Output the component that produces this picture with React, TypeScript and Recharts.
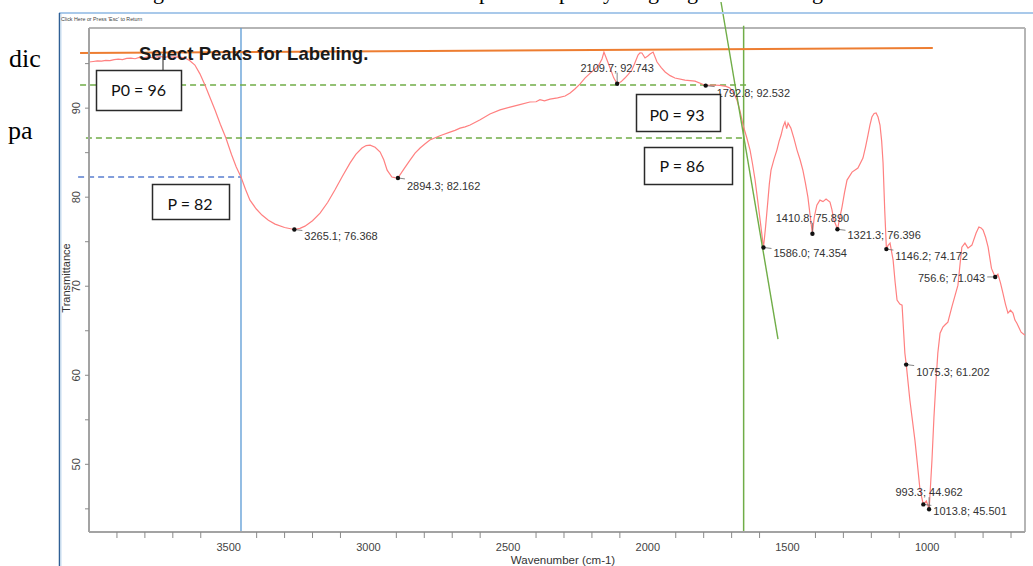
import React from "react";
import { ComposedChart, Line, Scatter, XAxis, YAxis, ReferenceLine, Label } from "recharts";

// spectrum (cm-1 / %T)
const wavenumber = [
  4000, 3985, 3970, 3955, 3940, 3925, 3910, 3895, 3880, 3865,
  3850, 3835, 3820, 3805, 3790, 3775, 3760, 3745, 3730, 3715,
  3700, 3685, 3670, 3656, 3640, 3621, 3603, 3585, 3567, 3549,
  3530, 3510, 3490, 3473, 3456, 3440, 3424, 3402, 3381, 3358,
  3334, 3300, 3266, 3245, 3227, 3200, 3173, 3146, 3120, 3093,
  3066, 3045, 3023, 3008, 2994, 2976, 2958, 2945, 2933, 2916,
  2905, 2894, 2872, 2851, 2833, 2815, 2797, 2780, 2744, 2708,
  2690, 2672, 2654, 2636, 2600, 2565, 2529, 2493, 2458, 2422,
  2400, 2386, 2370, 2350, 2323, 2296, 2278, 2261, 2243, 2225,
  2207, 2189, 2176, 2164, 2157, 2146, 2135, 2122, 2110, 2096,
  2082, 2070, 2057, 2046, 2035, 2028, 2021, 2010, 2000, 1992,
  1981, 1967, 1952, 1938, 1920, 1903, 1867, 1831, 1793, 1768,
  1742, 1720, 1706, 1694, 1681, 1670, 1659, 1646, 1634, 1625,
  1616, 1607, 1598, 1586, 1579, 1570, 1565, 1559, 1548, 1538,
  1530, 1523, 1516, 1509, 1503, 1498, 1488, 1477, 1466, 1455,
  1445, 1436, 1427, 1420, 1411, 1404, 1395, 1384, 1373, 1362,
  1348, 1341, 1334, 1321, 1314, 1305, 1296, 1287, 1269, 1248,
  1230, 1221, 1212, 1205, 1198, 1190, 1183, 1176, 1169, 1163,
  1158, 1152, 1146, 1140, 1133, 1122, 1115, 1108, 1098, 1090,
  1080, 1075, 1062, 1044, 1035, 1026, 1014, 1003, 993, 983,
  976, 969, 962, 954, 944, 935, 926, 911, 900, 890,
  883, 876, 865, 854, 840, 825, 815, 807, 800, 791,
  782, 770, 757, 747, 738, 729, 720, 711, 702, 693,
  686, 679, 671, 664, 650,
];
const transmittance = [
  95.18, 95.24, 95.3, 95.27, 95.36, 95.34, 95.45, 95.5, 95.46, 95.58,
  95.62, 95.55, 95.7, 95.64, 95.76, 95.68, 95.72, 95.8, 95.7, 95.78,
  95.74, 95.76, 95.7, 95.63, 95.35, 94.84, 93.85, 92.6, 91.2, 89.79,
  88.2, 86.64, 84.8, 83.4, 82.26, 80.9, 79.67, 78.7, 77.99, 77.4,
  76.98, 76.6, 76.37, 76.5, 76.75, 77.35, 78.21, 79.4, 80.8, 82.35,
  83.83, 84.8, 85.52, 85.8, 85.85, 85.6, 85.07, 84.2, 83.04, 82.26,
  82.2, 82.16, 83.2, 84.17, 84.95, 85.52, 86.0, 86.42, 86.9, 87.31,
  87.5, 87.75, 87.9, 88.1, 88.7, 89.34, 89.8, 90.12, 90.4, 90.69,
  90.72, 90.95, 90.82, 91.02, 91.15, 91.36, 91.7, 92.15, 92.7, 93.38,
  93.9, 94.39, 94.8, 95.52, 96.3, 95.4, 94.51, 93.4, 92.74, 92.95,
  93.38, 93.8, 94.28, 95.1, 95.97, 96.2, 96.19, 95.63, 95.85, 96.08,
  96.3, 95.18, 94.55, 94.06, 93.65, 93.38, 93.15, 93.04, 92.55, 92.6,
  92.55, 92.45, 92.26, 91.8, 90.91, 89.7, 88.1, 86.7, 85.29, 83.7,
  81.92, 79.7, 77.43, 74.35, 76.5, 79.67, 81.5, 83.04, 84.3, 85.29,
  86.3, 86.98, 87.9, 88.44, 87.7, 88.33, 87.76, 86.6, 85.29, 84.2,
  83.04, 81.6, 80.01, 78.2, 75.89, 77.8, 79.11, 79.67, 79.5, 79.79,
  79.45, 78.6, 77.43, 76.4, 77.5, 78.89, 80.5, 81.92, 82.82, 83.27,
  84.39, 85.6, 86.98, 88.1, 89.0, 89.4, 89.45, 89.0, 88.1, 86.3,
  83.83, 78.5, 74.17, 74.6, 74.84, 72.93, 70.5, 68.44, 68.0, 67.88,
  62.5, 61.2, 57.2, 52.71, 50.0, 47.2, 45.5, 45.9, 44.96, 50.46,
  55.2, 59.11, 62.5, 64.73, 65.4, 65.7, 65.97, 67.76, 69.0, 70.12,
  72.3, 74.39, 74.84, 74.28, 74.62, 75.97, 76.64, 76.55, 76.3, 75.5,
  74.39, 72.0, 71.04, 71.36, 70.4, 69.22, 68.0, 66.98, 67.3, 66.98,
  66.2, 65.85, 65.3, 64.84, 64.5,
];

// labelled peaks
const peakWavenumber = [3265.1, 2894.3, 2109.7, 1792.8, 1586.0, 1410.8, 1321.3, 1146.2, 1075.3, 1013.8, 993.3, 756.6];
const peakTransmittance = [76.368, 82.162, 92.743, 92.532, 74.354, 75.89, 76.396, 74.172, 61.202, 45.501, 44.962, 71.043];

const xMajorTicks = [3500, 3000, 2500, 2000, 1500, 1000];
const xMinorTicks = [
  3900, 3800, 3700, 3600, 3400, 3300, 3200, 3100, 2900, 2800, 2700, 2600, 2400, 2300,
  2200, 2100, 1900, 1800, 1700, 1600, 1400, 1300, 1200, 1100, 900, 800, 700,
];
const yTicks = [45, 50, 55, 60, 65, 70, 75, 80, 85, 90, 95];
const yLabelTicks = [50, 60, 70, 80, 90];

// hand-drawn construction lines (tangent method)
const baselineTop = [{ x: 4032, y: 96.19 }, { x: 980, y: 96.75 }];
const tangentLine = [{ x: 1738, y: 101.92 }, { x: 1534, y: 64.06 }];
const p0Line = [{ x: 4032, y: 92.6 }, { x: 1645, y: 92.6 }];
const pLine = [{ x: 4011, y: 86.64 }, { x: 1657, y: 86.64 }];
const p82Line = [{ x: 4039, y: 82.26 }, { x: 3456, y: 82.26 }];
const blueCursor = 3456;
const greenCursor = 1657;

const spectrum = wavenumber.map((w, i) => ({ w, t: transmittance[i] }));
const peaks = peakWavenumber.map((w, i) => ({
  w,
  t: peakTransmittance[i],
  label: `${w.toFixed(1)}; ${peakTransmittance[i].toFixed(3)}`,
}));

// where each peak label sits relative to its dot (px)
const labelPos: Record<string, { dx: number; dy: number; anchor: "start" | "middle" | "end" }> = {
  "3265.1": { dx: 10, dy: 6, anchor: "start" },
  "2894.3": { dx: 9, dy: 8, anchor: "start" },
  "2109.7": { dx: 0, dy: -16, anchor: "middle" },
  "1792.8": { dx: 11, dy: 7, anchor: "start" },
  "1586.0": { dx: 10, dy: 6, anchor: "start" },
  "1410.8": { dx: 0, dy: -16, anchor: "middle" },
  "1321.3": { dx: 10, dy: 6, anchor: "start" },
  "1146.2": { dx: 9, dy: 7, anchor: "start" },
  "1075.3": { dx: 10, dy: 7, anchor: "start" },
  "1013.8": { dx: 10, dy: 7, anchor: "start" },
  "993.3": { dx: 0, dy: -17, anchor: "middle" },
  "756.6": { dx: -10, dy: 1, anchor: "end" },
};

const FONT = "'Liberation Sans', Arial, sans-serif";

function PeakMarker(props: any) {
  const { cx, cy, payload } = props;
  const pos = labelPos[payload.w.toFixed(1)];
  let leader = null;
  if (pos.anchor === "start") {
    leader = <line x1={cx} y1={cy} x2={cx + pos.dx - 2} y2={cy + 1} stroke="#666" strokeWidth={0.8} />;
  } else if (pos.anchor === "end") {
    leader = <line x1={cx} y1={cy} x2={cx + pos.dx + 2} y2={cy} stroke="#666" strokeWidth={0.8} />;
  } else {
    leader = <line x1={cx} y1={cy} x2={cx} y2={cy + pos.dy + 5} stroke="#666" strokeWidth={0.8} />;
  }
  return (
    <g>
      {leader}
      <circle cx={cx} cy={cy} r={2.2} fill="#111" />
      <text
        x={cx + pos.dx}
        y={cy + pos.dy + 4}
        textAnchor={pos.anchor}
        fontSize={11}
        fontFamily={FONT}
        fill="#333"
      >
        {payload.label}
      </text>
    </g>
  );
}

function XTick(props: any) {
  const { x, y, payload } = props;
  if (xMajorTicks.includes(payload.value)) {
    return (
      <text x={x} y={y + 11} textAnchor="middle" fontSize={11} fontFamily={FONT} fill="#444">
        {payload.value}
      </text>
    );
  }
  return <line x1={x} x2={x} y1={y - 8} y2={y - 2} stroke="#8a8a8a" strokeWidth={1} />;
}

function YTick(props: any) {
  const { x, y, payload } = props;
  if (!yLabelTicks.includes(payload.value)) return <g />;
  return (
    <text
      x={x}
      y={y}
      transform={`rotate(-90 ${x} ${y})`}
      textAnchor="middle"
      fontSize={11}
      fontFamily={FONT}
      fill="#444"
    >
      {payload.value}
    </text>
  );
}

export default function App() {
  return (
    <div style={{ position: "absolute", left: 0, top: 0, width: 1033, height: 566, overflow: "hidden", background: "#fff" }}>
      <ComposedChart
        width={1033}
        height={566}
        data={spectrum}
        margin={{ top: 28, right: 8, bottom: 4, left: 59 }}
      >
        <XAxis
          dataKey="w"
          type="number"
          domain={[650, 4000]}
          reversed
          allowDataOverflow
          ticks={[...xMajorTicks, ...xMinorTicks]}
          interval={0}
          height={30}
          tickSize={6}
          tickMargin={2}
          tickLine={{ stroke: "transparent" }}
          axisLine={{ stroke: "#a3a3a3", strokeWidth: 2 }}
          tick={<XTick />}
        >
          <Label
            content={(p: any) => {
              const vb = p.viewBox || { x: 89, y: 532, width: 936 };
              return (
                <text x={vb.x + vb.width / 2 + 6} y={vb.y + 32} textAnchor="middle" fontSize={11.5} fontFamily={FONT} fill="#333">
                  Wavenumber (cm-1)
                </text>
              );
            }}
          />
        </XAxis>
        <YAxis
          type="number"
          domain={[42.4, 99]}
          allowDataOverflow
          ticks={yTicks}
          interval={0}
          width={30}
          tickSize={4}
          tickMargin={5}
          tickLine={{ stroke: "#8a8a8a" }}
          axisLine={{ stroke: "#a3a3a3", strokeWidth: 2 }}
          tick={<YTick />}
        >
          <Label
            content={(p: any) => {
              const vb = p.viewBox || { x: 59, y: 28, height: 504 };
              const cx = vb.x + 11;
              const cy = vb.y + vb.height / 2 - 2;
              return (
                <text x={cx} y={cy} transform={`rotate(-90 ${cx} ${cy})`} textAnchor="middle" fontSize={11} fontFamily={FONT} fill="#333">
                  Transmittance
                </text>
              );
            }}
          />
        </YAxis>

        {/* top and right frame of the plot */}
        <ReferenceLine y={99} stroke="#b5b5b5" strokeWidth={2} ifOverflow="visible" />
        <ReferenceLine x={650} stroke="#b5b5b5" strokeWidth={2} ifOverflow="visible" />

        <ReferenceLine x={blueCursor} stroke="#5b9bd5" strokeWidth={1.3} ifOverflow="visible" />
        <ReferenceLine
          segment={[{ x: greenCursor, y: 99.25 }, { x: greenCursor, y: 42.4 }]}
          stroke="#70ad47"
          strokeWidth={1.5}
          ifOverflow="visible"
        />
        <ReferenceLine segment={p0Line} stroke="#70ad47" strokeWidth={1.4} strokeDasharray="6 4" ifOverflow="visible" />
        <ReferenceLine segment={pLine} stroke="#70ad47" strokeWidth={1.4} strokeDasharray="6 4" ifOverflow="visible" />
        <ReferenceLine segment={p82Line} stroke="#5a7fd0" strokeWidth={1.5} strokeDasharray="6 4" ifOverflow="visible" />

        <Line
          dataKey="t"
          type="linear"
          stroke="#ff8080"
          strokeWidth={1.2}
          dot={false}
          activeDot={false}
          isAnimationActive={false}
        />
        <Scatter data={peaks} dataKey="t" shape={<PeakMarker />} isAnimationActive={false} />

        <ReferenceLine segment={baselineTop} stroke="#ed7d31" strokeWidth={2} ifOverflow="visible" />
        <ReferenceLine segment={tangentLine} stroke="#70ad47" strokeWidth={1.4} ifOverflow="visible" />
      </ComposedChart>

      <svg
        width={1033}
        height={566}
        style={{ position: "absolute", left: 0, top: 0, pointerEvents: "none" }}
      >
        <defs>
          <clipPath id="docclip">
            <rect x={0} y={0} width={41} height={566} />
          </clipPath>
        </defs>
        {/* surrounding document text, partly hidden by the screenshot */}
        <g fontFamily="'Liberation Serif', 'Times New Roman', serif" fill="#000">
          <g clipPath="url(#docclip)" fontSize={26}>
            <text x={9} y={67}>dic</text>
            <text x={8} y={139}>pa</text>
          </g>
          <g fontSize={22}>
            <text x={153} y={-1.5}>g</text>
            <text x={479} y={-1.5}>p</text>
            <text x={559} y={-1.5}>p</text>
            <text x={603} y={-1.5}>y</text>
            <text x={648} y={-1.5}>g</text>
            <text x={687} y={-1.5}>g</text>
            <text x={812} y={-1.5}>g</text>
          </g>
        </g>

        {/* screenshot window frame */}
        <line x1={59} y1={13} x2={1033} y2={13} stroke="#a9c9ea" strokeWidth={2} />
        <line x1={59.5} y1={13} x2={59.5} y2={566} stroke="#2f5f95" strokeWidth={1.5} />
        <line x1={61} y1={14} x2={61} y2={566} stroke="#c5dcf2" strokeWidth={1} />
        <text x={61} y={20.5} fontSize={5.3} fontFamily={FONT} fill="#444">
          Click Here or Press 'Esc' to Return
        </text>

        <text x={139} y={60} fontSize={18.5} fontWeight="bold" fontFamily={FONT} fill="#1a1a1a">
          Select Peaks for Labeling.
        </text>

        {/* callout boxes */}
        <line x1={163} y1={54} x2={163} y2={70} stroke="#222" strokeWidth={1} />
        <g fontFamily="Lato, 'Open Sans', sans-serif" fontSize={16} fill="#111" textAnchor="middle">
          <rect x={96.5} y={70.5} width={85} height={40} fill="#fff" stroke="#2a2a2a" strokeWidth={1.5} />
          <text x={138.5} y={96}>P0 = 96</text>
          <rect x={152.5} y={184.5} width={77} height={35} fill="#fff" stroke="#2a2a2a" strokeWidth={1.5} />
          <text x={190} y={209.5}>P = 82</text>
          <rect x={636.5} y={94.5} width={84} height={37} fill="#fff" stroke="#2a2a2a" strokeWidth={1.5} />
          <text x={677} y={120.5}>P0 = 93</text>
          <rect x={644.5} y={147.5} width={88} height={37} fill="#fff" stroke="#2a2a2a" strokeWidth={1.5} />
          <text x={682} y={172}>P = 86</text>
        </g>
      </svg>
    </div>
  );
}
